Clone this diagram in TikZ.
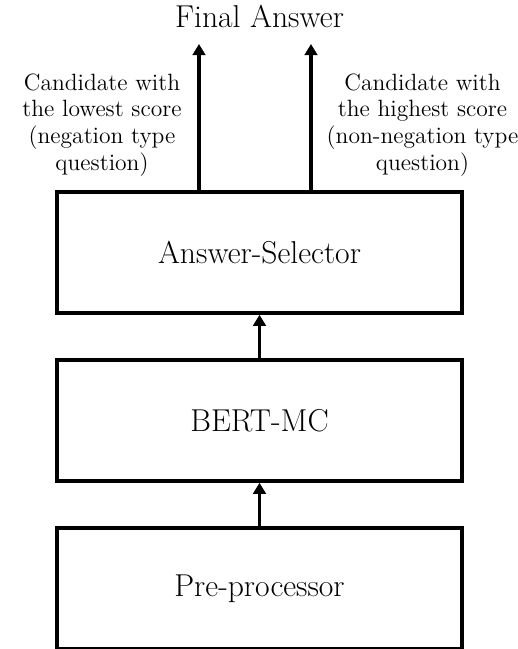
\documentclass[tikz,border=0pt]{standalone}
\usepackage{fontspec}
\usetikzlibrary{arrows.meta,positioning}
\begin{document}
\begin{tikzpicture}[node distance=0.87cm, big/.style={font=\fontsize{18}{21}\selectfont}, lbl/.style={align=center, font=\fontsize{13.4}{15.3}\selectfont}, blk/.style={draw, line width=0.07cm, minimum width=8.1cm, minimum height=2.42cm, big}, arr/.style={line width=0.07cm, -{Triangle[length=2.2mm,width=2.5mm]}}]
\useasboundingbox (0,0) rectangle (10.36,-12.98);
\node[blk] (sel) at (5.19,-5.05) {Answer-Selector};
\node[blk, below=of sel] (bert) {BERT-MC};
\node[blk, below=of bert] (pre) {Pre-processor};
\node[big, anchor=base] (final) at (5.19,-0.54) {Final Answer};
\coordinate (lowtip) at (3.98,-0.88); \coordinate (hightip) at (6.22,-0.88);
\node[lbl] (low) at (2.04,-2.5) {Candidate with\\the lowest score\\(negation type\\question)};
\node[lbl] (high) at (8.45,-2.5) {Candidate with\\the highest score\\(non-negation type\\question)};
\draw[arr] (pre) -- (bert); \draw[arr] (bert) -- (sel);
\draw[arr] (sel.north -| lowtip) -- (lowtip); \draw[arr] (sel.north -| hightip) -- (hightip);
\end{tikzpicture}
\end{document}
